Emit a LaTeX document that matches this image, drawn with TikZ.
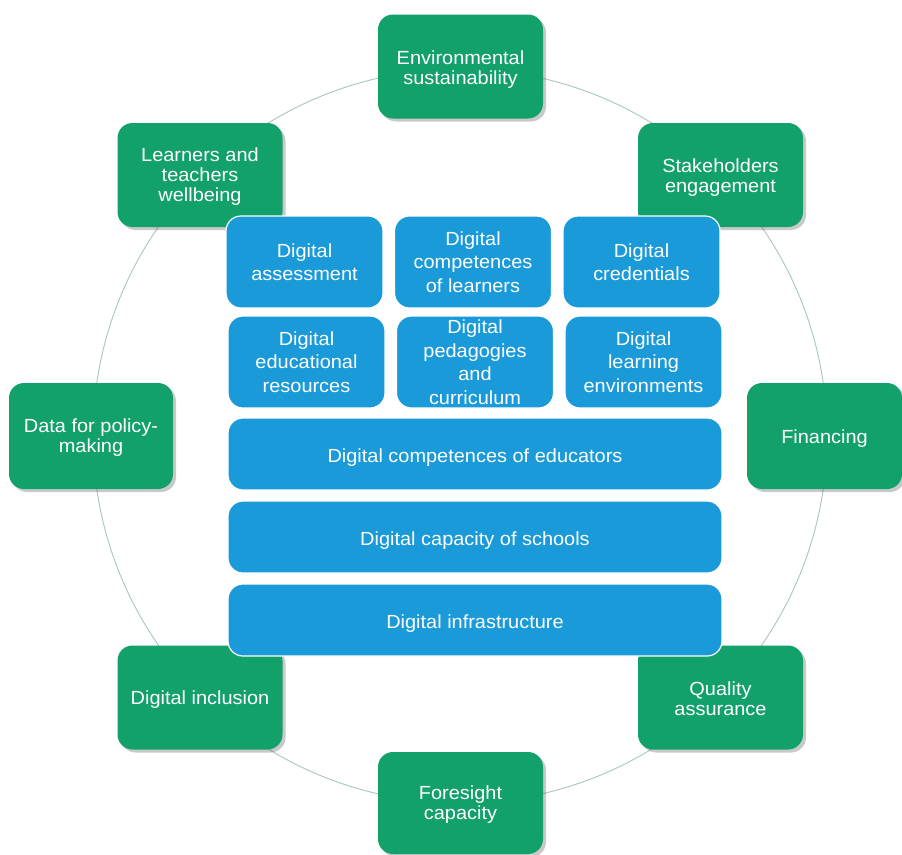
\documentclass[tikz,border=0pt]{standalone}
\usepackage{fontspec}
\setmainfont{Liberation Sans}[FakeStretch=1.05]
\usetikzlibrary{shadows}
\definecolor{grn}{HTML}{12A06B}
\definecolor{blu}{HTML}{1A9AD9}
\definecolor{ringc}{RGB}{170,198,182}
\begin{document}
\begin{tikzpicture}[x=1pt,y=-1pt,
  gbox/.style={fill=grn, rounded corners=15pt, minimum width=165pt, minimum height=104pt,
    inner sep=0pt, drop shadow={shadow xshift=3pt, shadow yshift=-3pt, opacity=0.3, fill=black!70}},
  gtext/.style={text=white, align=center, font=\fontsize{19}{20}\selectfont, inner sep=0pt},
  bbox/.style={fill=blu, draw=white, line width=1.2pt, rounded corners=15pt, text=white, align=center,
    font=\fontsize{19}{23.5}\selectfont, minimum width=157pt, minimum height=92pt, inner sep=0pt},
  wbox/.style={bbox, minimum width=494pt, minimum height=72pt, execute at begin node={\rule{0pt}{20pt}}},
  ring/.style={draw=ringc, line width=0.9pt}]
\useasboundingbox (0,0) rectangle (902,854);
\draw[ring] (460,436) circle[radius=367];
% green boxes
\node[gbox] (env) at (460.5,66.5) {};
\node[gtext] (envt) at ([yshift=-3pt]env.center) {Environmental\\sustainability};
\node[gbox] (stk) at (720.5,175) {};
\node[gtext] (stkt) at ([yshift=-3pt]stk.center) {Stakeholders\\engagement};
\node[gbox, minimum width=155pt, minimum height=106pt] (fin) at (824.5,436) {};
\node[gtext] (fint) at ([yshift=-2.5pt]fin.center) {Financing};
\node[gbox] (qa) at (720.5,697.5) {};
\node[gtext] (qat) at ([yshift=-1.5pt]qa.center) {Quality\\assurance};
\node[gbox, minimum height=102pt] (fore) at (460.5,803) {};
\node[gtext] (foret) at ([yshift=-1.5pt]fore.center) {Foresight\\capacity};
\node[gbox] (inc) at (200,697.5) {};
\node[gtext] (inct) at ([yshift=-2pt]inc.center) {Digital inclusion};
\node[gbox, minimum width=164pt, minimum height=106pt] (data) at (91,436) {};
\node[gtext] (datat) at ([yshift=-2pt]data.center) {Data for policy-\\making};
\node[gbox] (wel) at (200,175) {};
\node[gtext] (welt) at ([yshift=-2pt]wel.center) {Learners and\\teachers\\wellbeing};
% blue boxes
\node[bbox] (ass) at (304.5,262) {Digital\\assessment};
\node[bbox] (cl) at (473,262) {Digital\\competences\\of learners};
\node[bbox] (cred) at (641.5,262) {Digital\\credentials};
\node[bbox] (res) at (306.5,362) {Digital\\educational\\resources};
\node[bbox] (ped) at (475,362) {Digital\\pedagogies\\and\\curriculum};
\node[bbox] (env2) at (643.5,362) {Digital\\learning\\environments};
\node[wbox] (edu) at (475,454) {Digital competences of educators};
\node[wbox] (sch) at (475,537) {Digital capacity of schools};
\node[wbox] (inf) at (475,620) {Digital infrastructure};
\end{tikzpicture}
\end{document}
